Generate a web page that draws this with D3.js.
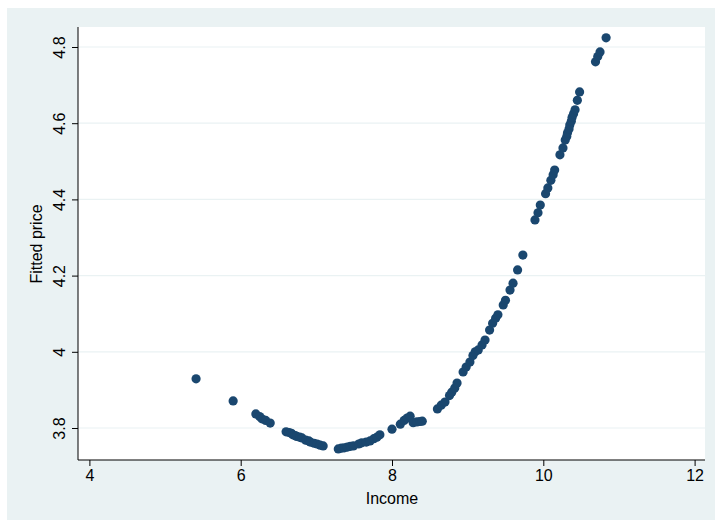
<!DOCTYPE html>
<html><head><meta charset="utf-8">
<script src="https://cdn.jsdelivr.net/npm/d3@7"></script>
<style>body{margin:0;background:#fff}text{font-family:"Liberation Sans",Arial,sans-serif}</style>
</head><body><div id="chart"></div>
<script>
const income = [5.41,5.90,6.20,6.25,6.28,6.33,6.39,6.60,6.64,6.67,6.69,6.72,6.74,6.78,6.81,6.86,6.90,6.92,6.97,7.01,7.05,7.09,7.29,7.33,7.37,7.41,7.45,7.49,7.56,7.60,7.66,7.71,7.76,7.80,7.84,8.00,8.11,8.16,8.20,8.24,8.28,8.33,8.37,8.40,8.60,8.65,8.70,8.76,8.79,8.83,8.86,8.94,8.98,9.03,9.07,9.10,9.14,9.19,9.23,9.29,9.33,9.37,9.40,9.47,9.50,9.56,9.60,9.66,9.73,9.89,9.93,9.96,10.03,10.06,10.10,10.13,10.15,10.22,10.26,10.29,10.31,10.32,10.34,10.35,10.37,10.38,10.40,10.42,10.45,10.48,10.69,10.72,10.75,10.83];
const fitted = [3.929,3.871,3.837,3.830,3.824,3.820,3.813,3.790,3.788,3.786,3.782,3.780,3.778,3.776,3.774,3.768,3.766,3.763,3.760,3.758,3.755,3.753,3.745,3.747,3.748,3.750,3.752,3.753,3.758,3.761,3.763,3.766,3.772,3.776,3.782,3.797,3.810,3.820,3.826,3.831,3.814,3.816,3.817,3.818,3.850,3.860,3.868,3.885,3.894,3.905,3.918,3.947,3.960,3.973,3.990,4.000,4.005,4.018,4.031,4.057,4.075,4.088,4.097,4.123,4.135,4.162,4.180,4.215,4.254,4.346,4.365,4.385,4.415,4.430,4.450,4.465,4.477,4.517,4.535,4.556,4.565,4.575,4.585,4.595,4.605,4.615,4.625,4.635,4.660,4.682,4.761,4.775,4.787,4.824];
const xTicks = [4,6,8,10,12];
const yTicks = [3.8,4,4.2,4.4,4.6,4.8];

const W = 718, H = 524;
const svg = d3.select("#chart").append("svg").attr("width", W).attr("height", H);
svg.append("rect").attr("x", 7).attr("y", 8).attr("width", 708).attr("height", 512).attr("fill", "#eaf2f3");
const L = 78, R = 705, T = 27, B = 460;
svg.append("rect").attr("x", L).attr("y", T).attr("width", R - L).attr("height", B - T).attr("fill", "#fff");

const x = d3.scaleLinear().domain([4, 12]).range([89.4, 694.6]);
const y = d3.scaleLinear().domain([3.8, 4.8]).range([428, 47]);

svg.append("g").selectAll("line").data(yTicks).join("line")
  .attr("x1", L).attr("x2", R).attr("y1", d => y(d)).attr("y2", d => y(d))
  .attr("stroke", "#eaf2f3").attr("stroke-width", 1.2);

const xa = svg.append("g").attr("transform", `translate(0,${B})`)
  .call(d3.axisBottom(x).tickValues(xTicks).tickSize(6).tickPadding(4).tickSizeOuter(0));
xa.select(".domain").attr("d", `M${L},0H${R}`);
const ya = svg.append("g").attr("transform", `translate(${L},0)`)
  .call(d3.axisLeft(y).tickValues(yTicks).tickFormat(d3.format("~g")).tickSize(6).tickSizeOuter(0));
ya.select(".domain").attr("d", `M0,${T}V${B}`);
[xa, ya].forEach(a => { a.selectAll("text").attr("font-size", 16).attr("fill", "#000").attr("font-family", "Liberation Sans, Arial"); a.selectAll("line,path").attr("stroke", "#000"); });
ya.selectAll(".tick text").attr("text-anchor", "middle").attr("x", 0).attr("y", 0).attr("dy", 0)
  .attr("transform", "translate(-13,0) rotate(-90)");

svg.append("text").attr("x", 392).attr("y", 504).attr("text-anchor", "middle").attr("font-size", 16).text("Income");
svg.append("text").attr("transform", "translate(42,244) rotate(-90)").attr("text-anchor", "middle").attr("font-size", 16).text("Fitted price");

svg.append("g").selectAll("circle").data(income).join("circle")
  .attr("cx", d => x(d)).attr("cy", (d, i) => y(fitted[i])).attr("r", 4.6).attr("fill", "#1a476f");
</script></body></html>
